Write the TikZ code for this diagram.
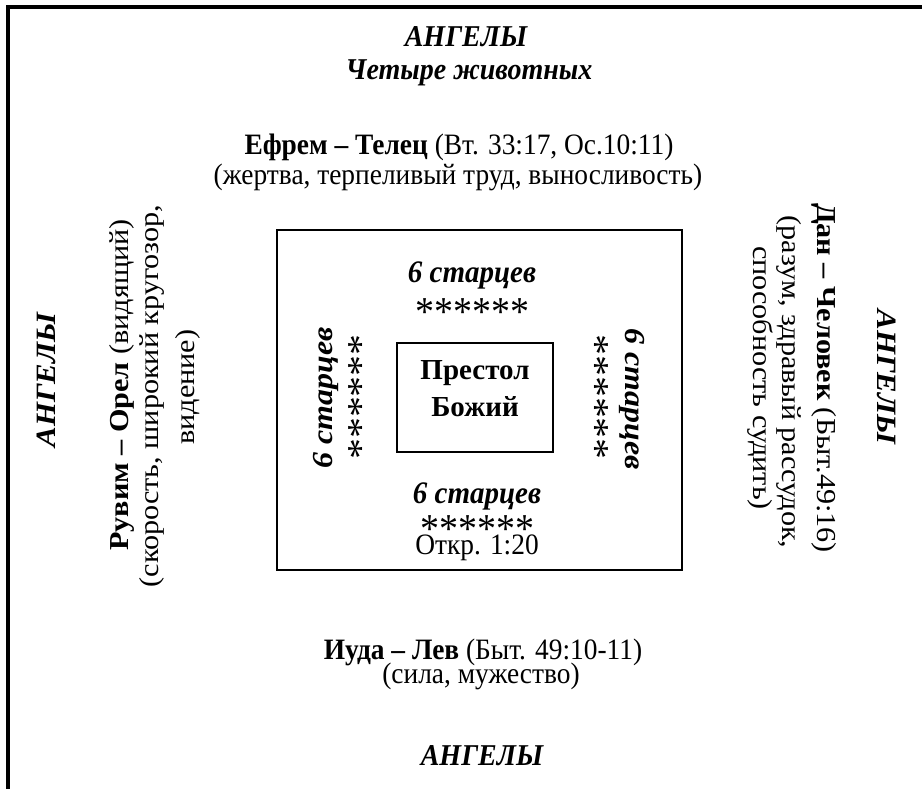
\documentclass[tikz,border=0pt]{standalone}
\usepackage{fontspec}
\setmainfont{Liberation Serif}
\usetikzlibrary{positioning}
\tikzset{
  txt/.style={anchor=base, inner sep=0pt, yscale=1.08, font=\fontsize{27.4}{32}\selectfont},
  angel/.style={txt, font=\fontsize{28}{32}\selectfont\bfseries\itshape},
  elder/.style={txt, font=\fontsize{29}{33}\selectfont\bfseries\itshape},
  stars/.style={txt, font=\fontsize{38}{40}\selectfont},
  up/.style={rotate=90, xscale=1.02},
  down/.style={rotate=-90, xscale=1.02},
  frame/.style={line width=4pt},
  box/.style={line width=1.6pt}
}

\begin{document}
\begin{tikzpicture}[x=1pt, y=-1pt]
  \useasboundingbox (0,0) rectangle (922,789);
  % outer frame, only top and left edges are in view
  \coordinate (frameBL) at (8,789);
  \coordinate (frameTL) at (8,7);
  \coordinate (frameTR) at (922,7);
  \draw[frame] (frameBL) -- (frameTL) -- (frameTR);

  % top
  \node[angel] (angTop) at (466,47) {АНГЕЛЫ};
  \node[angel] (animals) at (469,80) {Четыре животных};
  \node[txt] (efrLine) at (459,155) {\textbf{Ефрем – Телец} (Вт. 33:17, Ос.10:11)};
  \node[txt] (efrNote) at (458,185) {(жертва, терпеливый труд, выносливость)};

  % bottom
  \node[txt] (judLine) at (483,659) {\textbf{Иуда – Лев} (Быт. 49:10-11)};
  \node[txt] (judNote) at (481,683) {(сила, мужество)};
  \node[angel] (angBot) at (482,765) {АНГЕЛЫ};

  % left
  \node[angel, up] (angLeft) at (55,380) {АНГЕЛЫ};
  \node[txt, up] (rubLine) at (128,385) {\textbf{Рувим – Орел} (видящий)};
  \node[txt, up] (rubNoteA) at (158,396) {(скорость, широкий кругозор,};
  \node[txt, up] (rubNoteB) at (194,387) {видение)};

  % right
  \node[angel, down] (angRight) at (877,377) {АНГЕЛЫ};
  \node[txt, down] (danLine) at (817,378) {\textbf{Дан – Человек} (Быт.49:16)};
  \node[txt, down] (danNoteA) at (782,382) {(разум, здравый рассудок,};
  \node[txt, down] (danNoteB) at (753,378) {способность судить)};

  % elders round the throne
  \coordinate (innerTL) at (277,230);
  \coordinate (innerBR) at (682,570);
  \draw[box] (innerTL) rectangle (innerBR);
  \node[draw, box, font=\fontsize{29}{37}\selectfont\bfseries, align=center,
        minimum width=156, minimum height=109, text depth=18pt] (throne)
        at (475,397.5) {Престол\\Божий};

  \node[elder] (eldTop) at (472,283) {6 старцев};
  \node[stars] (starTop) at (472,325) {******};
  \node[elder] (eldBot) at (477,503) {6 старцев};
  \node[stars] (starBot) at (477,542) {******};
  \node[txt] (rev) at (477,554) {Откр. 1:20};
  \node[elder, up] (eldLeft) at (332,398) {6 старцев};
  \node[stars, up] (starLeft) at (373,397) {******};
  \node[elder, down] (eldRight) at (625,399) {6 старцев};
  \node[stars, down] (starRight) at (583,397) {******};
\end{tikzpicture}
\end{document}
